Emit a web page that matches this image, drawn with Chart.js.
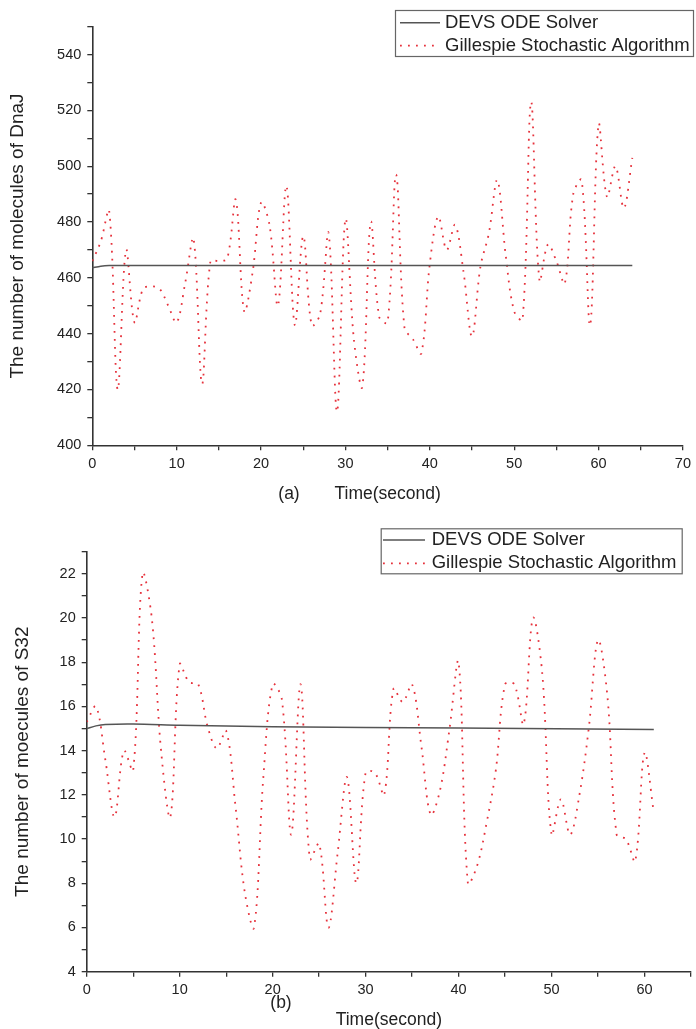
<!DOCTYPE html>
<html lang="en">
<head>
<meta charset="UTF-8">
<title>DnaJ and S32 molecule counts</title>
<script src="https://cdn.jsdelivr.net/npm/chart.js@4"></script>
<style>
  html, body { margin: 0; padding: 0; background: #fff; }
  #wrap { position: relative; width: 696px; height: 1029px; }
  canvas { position: absolute; left: 0; }
  #chartA { top: 0; }
  #chartB { top: 510px; }
</style>
</head>
<body>
<div id="wrap">
  <canvas id="chartA" width="696" height="510"></canvas>
  <canvas id="chartB" width="696" height="519"></canvas>
</div>
<script>
// (a) DnaJ
const gillTimeA = [0,1,2,3,4,5,6,7,8,9,10,11,12,13,14,15,16,17,18,19,20,21,22,23,24,25,26,27,28,29,30,31,32,
                   33,34,35,36,37,38,39,40,41,42,43,44,45,46,47,48,49,50,51,52,53,54,55,56,57,58,59,60,61,62,63,64];
const gillDnaJ = [466,473,484,420,470,444,456,457,456,450,444,458,474,422,466,466,467,488,448,462,
                  487,479,450,493,443,475,443,447,476,412,481,438,421,480,446,444,497,442,438,433,
                  465,482,470,479,462,439,464,476,495,468,448,445,523,459,472,466,458,490,495,443,
                  515,489,500,485,503];
const odeTimeA = [0, 1, 2, 64];
const odeDnaJ = [463.6, 464.2, 464.4, 464.4];

// (b) S32
const gillTimeB = [0,1,2,3,4,5,6,7,8,9,10,11,12,13,14,15,16,17,18,19,20,21,22,23,24,25,26,27,28,29,30,
                   31,32,33,34,35,36,37,38,39,40,41,42,43,44,45,46,47,48,49,50,51,52,53,54,55,56,57,58,59,60,61];
const gillS32 = [15.3,16,13.6,11,14,13.1,22,20,14,11,
                 17.9,17.1,17,15.1,14.1,14.9,11.5,7.6,6,12.8,
                 17,16.3,10.2,17,9.1,9.8,6,9.4,12.8,8,
                 13,13,12,16.8,16.2,17,14.2,11.1,12.2,14.9,
                 18,8,8.8,10.7,13.1,17,17,15.2,20,17.5,
                 10.2,11.8,10.2,12,15,19,16.5,10.2,10,9,
                 13.9,11.2];
const odeTimeB = [0, 1, 2, 5, 10, 20, 40, 61];
const odeS32 = [15.0, 15.12, 15.18, 15.2, 15.15, 15.08, 15.03, 14.96];

const seriesNames = ['DEVS ODE Solver', 'Gillespie Stochastic Algorithm'];

const FONT = '"Liberation Sans", Arial, sans-serif';
const textColor = '#222';
const axisColor = '#333';

const pts = (xs, ys) => xs.map((x, i) => ({ x: x, y: ys[i] }));

// axis titles and the panel tag, drawn relative to the plot area
const figureText = {
  id: 'figureText',
  afterDraw(chart, args, o) {
    const { ctx, chartArea: a } = chart;
    ctx.save();
    ctx.fillStyle = textColor;
    ctx.textAlign = 'center';
    ctx.textBaseline = 'middle';
    ctx.font = '17.5px ' + FONT;
    ctx.fillText('Time(second)', (a.left + a.right) / 2, o.xTitleY);
    ctx.fillText(o.tag, o.tagX, o.tagY);
    ctx.font = '19px ' + FONT;
    ctx.translate(o.yTitleX, (a.top + a.bottom) / 2);
    ctx.rotate(-Math.PI / 2);
    ctx.fillText(o.yTitle, 0, 0);
    ctx.restore();
  }
};

// boxed legend like the original figure
const boxLegend = {
  id: 'boxLegend',
  afterDraw(chart, args, o) {
    const ctx = chart.ctx;
    ctx.save();
    ctx.fillStyle = '#fff';
    ctx.fillRect(o.x, o.y, o.w, o.h);
    ctx.strokeStyle = '#666';
    ctx.lineWidth = 1.2;
    ctx.strokeRect(o.x + 0.5, o.y + 0.5, o.w, o.h);
    ctx.font = '18.5px ' + FONT;
    ctx.textBaseline = 'middle';
    chart.data.datasets.forEach((ds, i) => {
      const yy = o.y + o.rows[i];
      ctx.strokeStyle = ds.borderColor;
      ctx.lineWidth = ds.borderWidth;
      ctx.setLineDash(ds.borderDash || []);
      ctx.beginPath();
      ctx.moveTo(o.x + o.sample[0], yy);
      ctx.lineTo(o.x + o.sample[1], yy);
      ctx.stroke();
      ctx.setLineDash([]);
      ctx.fillStyle = textColor;
      ctx.fillText(ds.label, o.x + o.textX, yy);
    });
    ctx.restore();
  }
};

function axis(min, max, step, labelEvery, fitSize, isX) {
  return {
    type: 'linear',
    min: min,
    max: max,
    ticks: {
      stepSize: step,
      autoSkip: false,
      maxRotation: 0,
      padding: isX ? 5 : 6,
      color: textColor,
      font: { family: FONT, size: 14.5 },
      callback: v => (Math.abs(v % labelEvery) < 1e-9 ? v : '')
    },
    grid: { drawOnChartArea: false, drawTicks: true, tickLength: 5, color: axisColor, lineWidth: 1.3 },
    border: { color: axisColor, width: 1.6 },
    afterFit: s => { if (isX) s.height = fitSize; else s.width = fitSize; }
  };
}

function makeChart(id, cfg) {
  return new Chart(document.getElementById(id), {
    type: 'line',
    data: {
      datasets: [
        {
          label: seriesNames[0],
          data: pts(cfg.odeT, cfg.odeY),
          borderColor: '#555',
          borderWidth: 1.5,
          pointRadius: 0,
          tension: 0.3
        },
        {
          label: seriesNames[1],
          data: pts(cfg.gillT, cfg.gillY),
          borderColor: '#e6323c',
          borderWidth: 1.8,
          borderDash: [1.8, 6.2],
          pointRadius: 0,
          tension: 0.35
        }
      ]
    },
    options: {
      responsive: false,
      animation: false,
      events: [],
      layout: { padding: cfg.padding },
      scales: {
        x: axis(cfg.xMin, cfg.xMax, 5, 10, cfg.xFit, true),
        y: axis(cfg.yMin, cfg.yMax, cfg.yStep, cfg.yLabelEvery, cfg.yFit, false)
      },
      plugins: {
        legend: { display: false },
        tooltip: { enabled: false },
        figureText: cfg.text,
        boxLegend: cfg.legend
      }
    },
    plugins: [figureText, boxLegend]
  });
}

makeChart('chartA', {
  odeT: odeTimeA, odeY: odeDnaJ, gillT: gillTimeA, gillY: gillDnaJ,
  xMin: 0, xMax: 70, yMin: 400, yMax: 550, yStep: 10, yLabelEvery: 20,
  xFit: 64.7, yFit: 92.3,
  padding: { left: 0, right: 6.4, top: 26.7, bottom: 0 },
  text: { yTitle: 'The number of molecules of DnaJ', yTitleX: 18, xTitleY: 494, tag: '(a)', tagX: 289, tagY: 494 },
  legend: { x: 395, y: 10, w: 298, h: 46, rows: [12.7, 35.7], sample: [5, 45], textX: 50 }
});

makeChart('chartB', {
  odeT: odeTimeB, odeY: odeS32, gillT: gillTimeB, gillY: gillS32,
  xMin: 0, xMax: 65, yMin: 4, yMax: 23, yStep: 1, yLabelEvery: 2,
  xFit: 57.3, yFit: 86.7,
  padding: { left: 0, right: 5, top: 41.7, bottom: 0 },
  text: { yTitle: 'The number of moecules of S32', yTitleX: 22.7, xTitleY: 510, tag: '(b)', tagX: 281, tagY: 493 },
  legend: { x: 380.7, y: 18.3, w: 301, h: 45, rows: [11.7, 35], sample: [2.3, 44.3], textX: 51 }
});
</script>
</body>
</html>
